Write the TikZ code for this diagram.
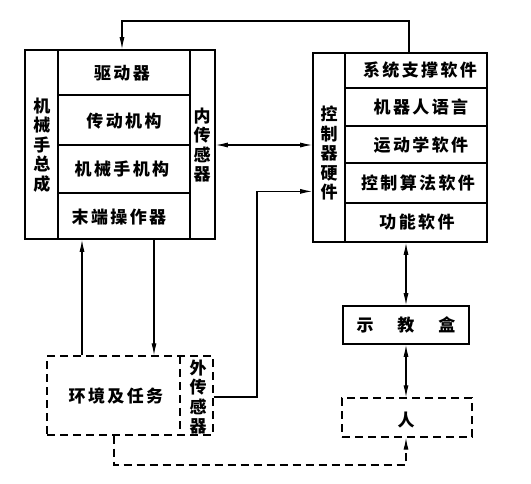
\documentclass[tikz,border=0pt]{standalone}
\usepackage{fontspec}
\setmainfont[LetterSpace=14]{Noto Sans CJK SC}
\usetikzlibrary{arrows.meta}
\begin{document}
\begin{tikzpicture}[x=1pt,y=-1pt,
  frame/.style={draw,line width=1.6pt,inner sep=0pt},
  dframe/.style={draw,line width=1.3pt,dash pattern=on 8pt off 5pt,inner sep=0pt},
  sep/.style={line width=1.6pt},
  lbl/.style={font=\fontsize{17}{19.5}\selectfont\bfseries,inner sep=0pt,align=center},
  conn/.style={line width=1.1pt},
  arr/.style={conn,-{Latex[length=12pt,width=5pt]}},
  darr/.style={conn,{Latex[length=12pt,width=5pt]}-{Latex[length=12pt,width=5pt]}},
  dsh/.style={dash pattern=on 8pt off 5pt}]
\useasboundingbox[fill=white] (0,0) rectangle (531,483);

% ---- manipulator assembly
\node[frame,minimum width=190pt,minimum height=189pt] (arm) at (120,144.5) {};
\draw[sep] (58,50) -- (58,239) (190,50) -- (190,239);
\draw[sep] (58,95) -- (190,95) (58,145) -- (190,145) (58,193) -- (190,193);
\node[lbl] (drv) at (122,73) {驱动器};
\node[lbl] (trans) at (124,121) {传动机构};
\node[lbl] (mech) at (122,169) {机械手机构};
\node[lbl] (eff) at (119,217) {末端操作器};
\node[lbl] (asm) at (42,145) {机\\械\\手\\总\\成};
\node[lbl] (isens) at (202,145) {内\\传\\感\\器};

% ---- controller
\node[frame,minimum width=174pt,minimum height=189pt] (ctrl) at (400,147.5) {};
\draw[sep] (345,53) -- (345,242);
\draw[sep] (345,88) -- (487,88) (345,126) -- (487,126) (345,163) -- (487,163) (345,203) -- (487,203);
\node[lbl] (sys) at (420,70) {系统支撑软件};
\node[lbl] (lang) at (421,107) {机器人语言};
\node[lbl] (kin) at (421,145) {运动学软件};
\node[lbl] (alg) at (418,183) {控制算法软件};
\node[lbl] (func) at (417,222) {功能软件};
\node[lbl] (hw) at (329,153) {控\\制\\器\\硬\\件};

% ---- environment
\node[dframe,minimum width=166pt,minimum height=79pt] (env) at (130,395.5) {};
\draw[conn,line width=1.3pt,dsh] (180,356) -- (180,435);
\node[lbl] (envt) at (116,396) {环境及任务};
\node[lbl] (esens) at (198,397) {外\\传\\感\\器};

% ---- teach box and human
\node[frame,minimum width=126pt,minimum height=38pt] (teach) at (406,325) {};
\node[lbl] (teacht) at (406,325) {示\hspace{1.4em}教\hspace{1.4em}盒};
\node[dframe,minimum width=130pt,minimum height=39pt] (man) at (407,417.5) {};
\node[lbl] (mant) at (406,420) {人};

% ---- helper coordinates
\coordinate (tr) at (409,21);
\coordinate (tl) at (122,21);
\coordinate (ex) at (257,397);
\coordinate (bl) at (114,465);
\coordinate (br) at (406,465);

% ---- connectors
\draw[arr] (ctrl.north -| tr) -- (tr) -- (tl) -- (arm.north -| tl);
\draw[darr] (arm.east |- isens) -- (ctrl.west |- isens);
\draw[arr] (env.east |- ex) -- (ex) -- (ex |- alg.south) -- (ctrl.west |- alg.south);
\draw[arr] (env.north -| 82,0) -- (arm.south -| 82,0);
\draw[arr] (arm.south -| 154,0) -- (env.north -| 154,0);
\draw[darr] (ctrl.south -| teach) -- (teach.north);
\draw[darr] (teach.south) -- (man.north -| teach);
\draw[conn,dsh,-{Latex[length=12pt,width=5pt]}] (env.south -| bl) -- (bl) -- (br) -- (man.south -| br);
\end{tikzpicture}
\end{document}
